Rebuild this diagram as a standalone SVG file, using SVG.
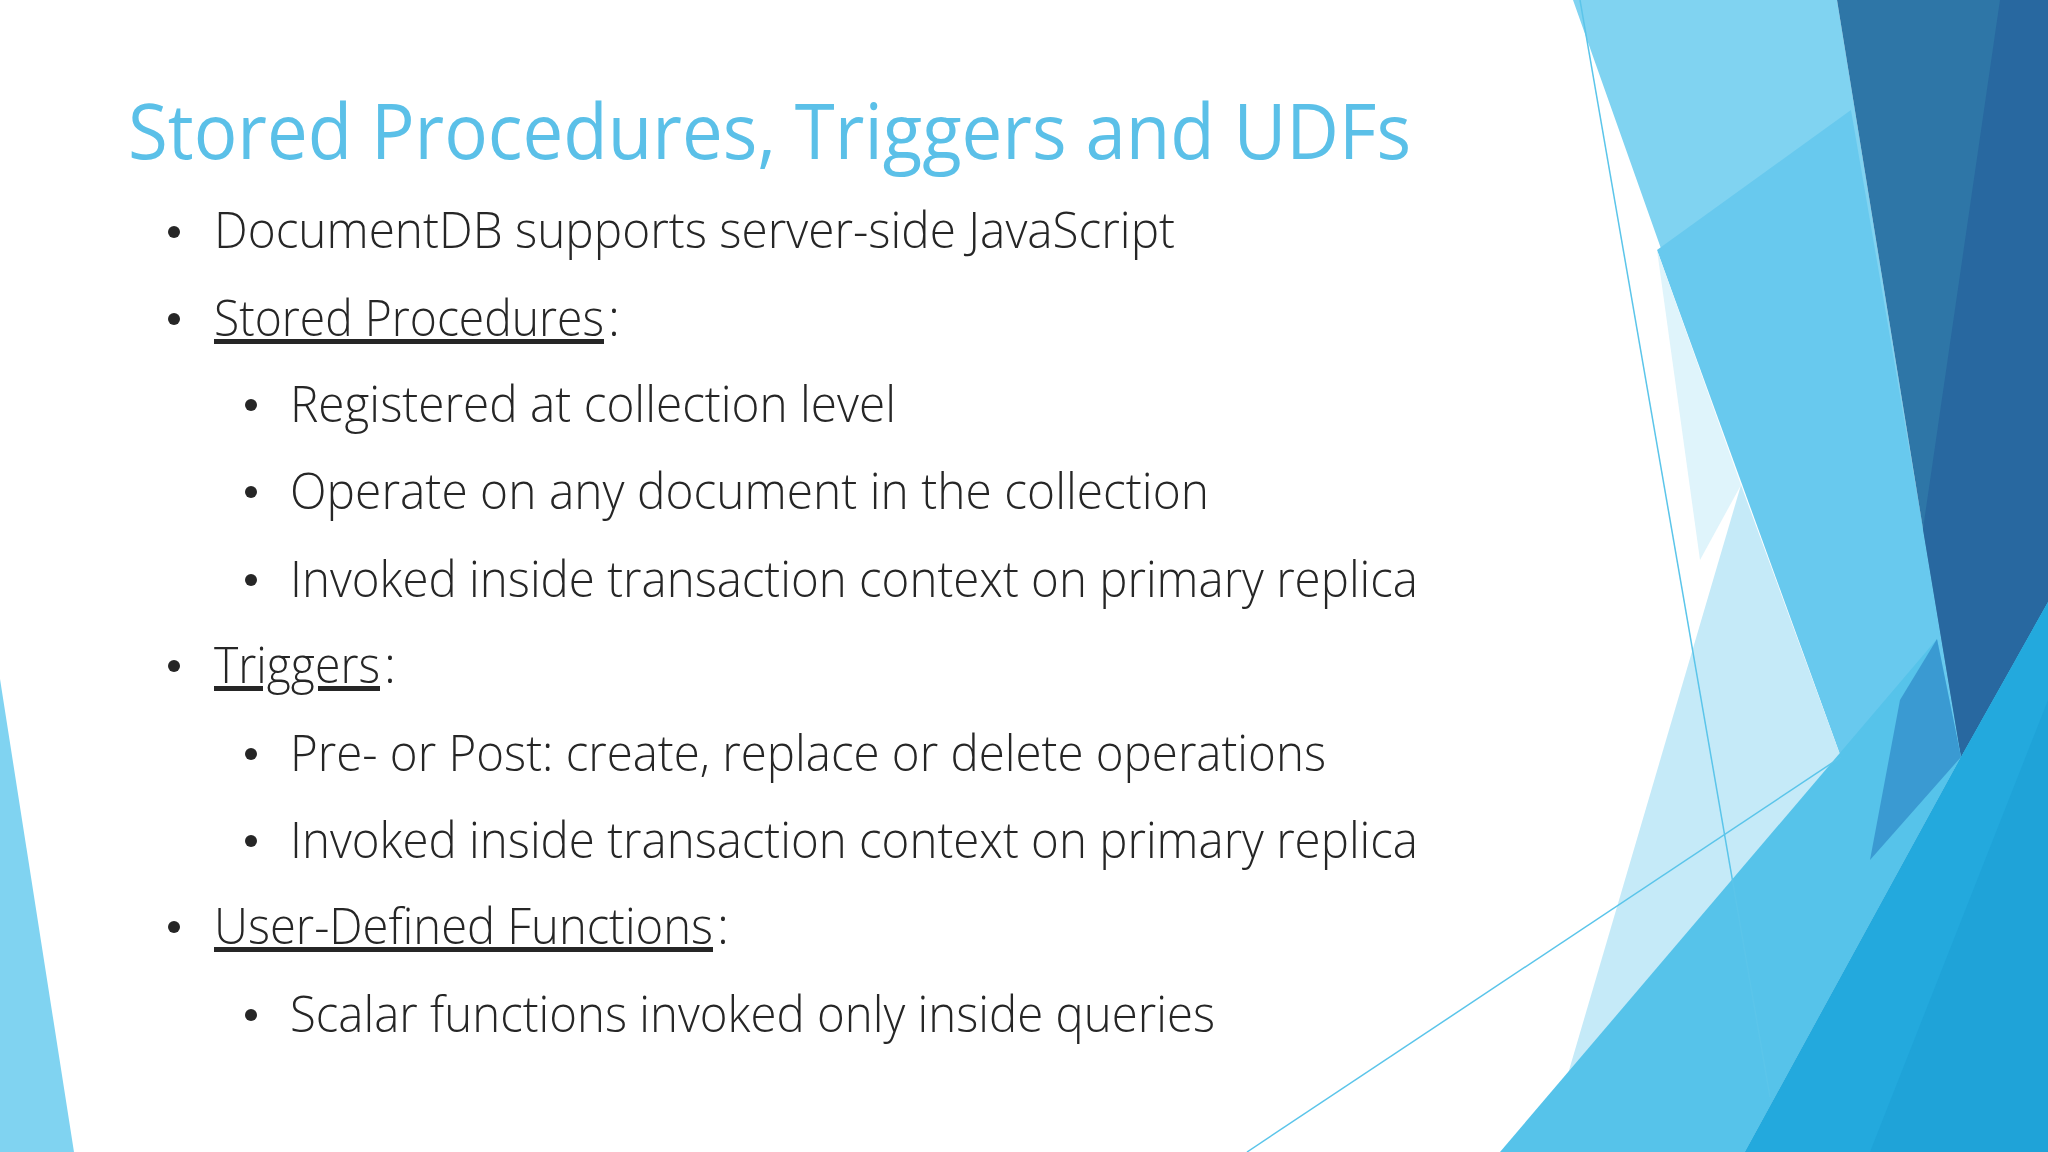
<svg xmlns="http://www.w3.org/2000/svg" width="2048" height="1152" viewBox="0 0 2048 1152">
<style>
.b{font-family:"Open Sans","Liberation Sans",sans-serif;font-size:50px;fill:#262626;font-weight:300}
.u{text-decoration:underline}
.ln{stroke:#5bc5ea;stroke-width:1.5;fill:none}
</style>
<rect width="2048" height="1152" fill="#ffffff"/>
<g id="background">
<polygon points="1573,0 1837,0 1923,529 1961,757 1876,845 1841,757" fill="#80d3f1"/>
<polygon points="1657,250 1851,110 1923,529 1961,757 1876,845 1841,757" fill="#68c9ee"/>
<polygon points="1657,250 1741,485 1700,560" fill="#dff4fb"/>
<polygon points="1741,485 1841,757 1566,1152 1545,1152" fill="#c5eaf8"/>
<polygon points="1837,0 2048,0 2048,602 1961,757 1923,529" fill="#2e76a7"/>
<polygon points="2000,0 2048,0 2048,602 1961,757 1923,529" fill="#2868a0"/>
<polygon points="1500,1152 1937,639 1961,757 1745,1152" fill="#56c3ea"/>
<polygon points="1937,639 1961,757 1870,860 1900,700" fill="#3a9ad2"/>
<polygon points="2048,602 2048,1152 1745,1152 1961,757" fill="#1fa3d8"/>
<polygon points="1961,757 2048,602 2048,700 1870,1152 1745,1152" fill="#23a9dd"/>
<polygon points="0,679 74,1152 0,1152" fill="#80d3f1"/>
<line class="ln" x1="1580" y1="0" x2="1770" y2="1097"/>
<line class="ln" x1="1247" y1="1152" x2="1841" y2="757"/>
</g>
<g id="title">
<text x="128" y="159" font-family="'Open Sans','Liberation Sans',sans-serif" font-size="76" fill="#5bc0e8" textLength="1283" lengthAdjust="spacingAndGlyphs">Stored Procedures, Triggers and UDFs</text>
</g>
<g id="bullets">
<g fill="#262626">
<circle cx="174" cy="232" r="6"/><circle cx="174" cy="319" r="6"/><circle cx="251" cy="405" r="6"/><circle cx="251" cy="492" r="6"/><circle cx="251" cy="580" r="6"/><circle cx="174" cy="666" r="6"/><circle cx="251" cy="754" r="6"/><circle cx="251" cy="841" r="6"/><circle cx="174" cy="927" r="6"/><circle cx="251" cy="1015" r="6"/>
</g>
<text class="b" x="214" y="248" textLength="961" lengthAdjust="spacingAndGlyphs">DocumentDB supports server-side JavaScript</text>
<text class="b u" x="214" y="336" textLength="390" lengthAdjust="spacingAndGlyphs">Stored Procedures</text><text class="b" x="608" y="336">:</text>
<text class="b" x="290" y="422" textLength="606" lengthAdjust="spacingAndGlyphs">Registered at collection level</text>
<text class="b" x="290" y="509" textLength="919" lengthAdjust="spacingAndGlyphs">Operate on any document in the collection</text>
<text class="b" x="290" y="597" textLength="1128" lengthAdjust="spacingAndGlyphs">Invoked inside transaction context on primary replica</text>
<text class="b u" x="214" y="683" textLength="166" lengthAdjust="spacingAndGlyphs">Triggers</text><text class="b" x="384" y="683">:</text>
<text class="b" x="290" y="771" textLength="1036" lengthAdjust="spacingAndGlyphs">Pre- or Post: create, replace or delete operations</text>
<text class="b" x="290" y="858" textLength="1128" lengthAdjust="spacingAndGlyphs">Invoked inside transaction context on primary replica</text>
<text class="b u" x="214" y="944" textLength="499" lengthAdjust="spacingAndGlyphs">User-Defined Functions</text><text class="b" x="717" y="944">:</text>
<text class="b" x="290" y="1032" textLength="925" lengthAdjust="spacingAndGlyphs">Scalar functions invoked only inside queries</text>
</g>
</svg>
